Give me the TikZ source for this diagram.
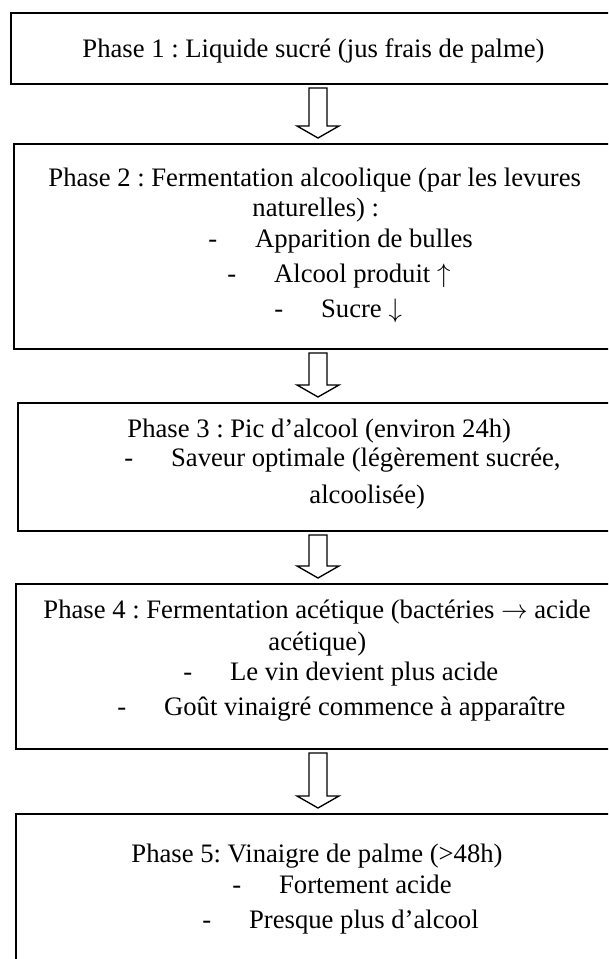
\documentclass[tikz,border=0pt]{standalone}
\usepackage{fontspec}
\setmainfont{Liberation Serif}
\usetikzlibrary{calc}

\def\pxu{0.45pt}
\def\bul#1{\makebox[21pt][l]{-}#1}

\begin{document}
\frenchspacing
\begin{tikzpicture}[x=\pxu, y=-\pxu, every node/.style={font=\fontsize{12pt}{14pt}\selectfont},
  phasebox/.style={draw, line width=0.9pt, anchor=north west, inner sep=0pt, minimum width={640*\pxu}},
  textline/.style={anchor=base west, inner sep=0pt},
  hollow/.style={draw, line width=0.6pt, fill=white, line join=miter}]
  \useasboundingbox (0,0) rectangle (608,959);
  \clip (0,0) rectangle (608,959);

  \node (b1) [phasebox, minimum height={71*\pxu}] at (10,12) {};
  \node (b2) [phasebox, minimum height={205*\pxu}] at (13,143) {};
  \node (b3) [phasebox, minimum height={128*\pxu}] at (17,402) {};
  \node (b4) [phasebox, minimum height={165*\pxu}] at (15,583) {};
  \node (b5) [phasebox, minimum height={200*\pxu}] at (15,813) {};
  \coordinate (mid) at (318,0);

  \node (p1) [textline] at (82,58) {Phase 1 : Liquide sucré (jus frais de palme)};

  \node (p2a) [textline] at (48,187) {Phase 2 : Fermentation alcoolique (par les levures};
  \node (p2b) [textline] at (252,217) {naturelles) :};
  \node (p2c) [textline] at (208,248) {\bul{Apparition de bulles}};
  \node (p2d) [textline] at (227,283) {\bul{Alcool produit $\uparrow$}};
  \node (p2e) [textline] at (274,318) {\bul{Sucre $\downarrow$}};

  \node (p3a) [textline] at (127,437) {Phase 3 : Pic d’alcool (environ 24h)};
  \node (p3b) [textline] at (124,467) {\bul{Saveur optimale (légèrement sucrée,}};
  \node (p3c) [textline] at (309,503) {alcoolisée)};

  \node (p4a) [textline] at (43,618) {Phase 4 : Fermentation acétique (bactéries $\rightarrow$ acide};
  \node (p4b) [textline] at (268,650) {acétique)};
  \node (p4c) [textline] at (183,680) {\bul{Le vin devient plus acide}};
  \node (p4d) [textline] at (117,715) {\bul{Goût vinaigré commence à apparaître}};

  \node (p5a) [textline] at (131,862) {Phase 5: Vinaigre de palme (>48h)};
  \node (p5b) [textline] at (232,893) {\bul{Fortement acide}};
  \node (p5c) [textline] at (202,928) {\bul{Presque plus d’alcool}};

  \foreach \a/\b in {b1/b2, b2/b3, b3/b4, b4/b5}
    \draw[hollow] ($(\a.south -| mid)+(-9,3)$) -- ($(\b.north -| mid)+(-9,-17)$) -- ($(\b.north -| mid)+(-21,-17)$)
      -- ($(\b.north -| mid)+(0,-5)$) -- ($(\b.north -| mid)+(21,-17)$) -- ($(\b.north -| mid)+(9,-17)$)
      -- ($(\a.south -| mid)+(9,3)$) -- cycle;
\end{tikzpicture}
\end{document}
